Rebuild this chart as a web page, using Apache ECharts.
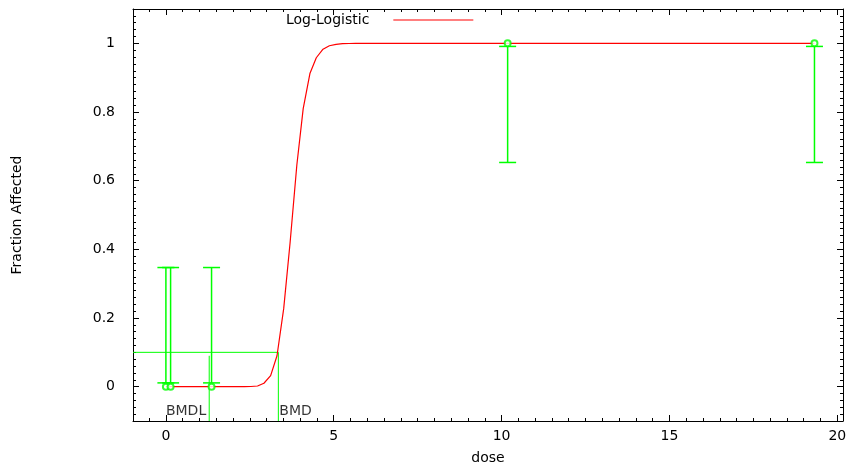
<!DOCTYPE html>
<html>
<head>
<meta charset="utf-8">
<script src="https://cdn.jsdelivr.net/npm/echarts@6/dist/echarts.min.js"></script>
<style>
  html, body { margin: 0; padding: 0; background: #fff; }
  #chart { width: 848px; height: 465px; }
</style>
</head>
<body>
<div id="chart"></div>
<script>
// Observed dose groups
const doses = [0, 0.14, 1.36, 10.18, 19.32];
const fracObserved = [0, 0, 0, 1, 1];
const ciLower = [0.011, 0.011, 0.011, 0.653, 0.653];
const ciUpper = [0.347, 0.347, 0.347, 0.991, 0.991];

// Fitted log-logistic curve, sampled doses and response
const curveDose = [0, 2.34, 2.53, 2.73, 2.92, 3.12, 3.31, 3.51, 3.70, 3.90, 4.09, 4.29, 4.48, 4.68, 4.87, 5.07, 5.26, 5.46, 5.65, 19.32];
const curveFrac = [0, 0, 0.0005, 0.002, 0.01, 0.032, 0.09, 0.228, 0.42, 0.645, 0.81, 0.912, 0.958, 0.983, 0.993, 0.997, 0.999, 0.9995, 1, 1];

// Benchmark dose results
const bmr = 0.1;
const bmd = 3.35;
const bmdl = 1.29;
const bmdlTop = 0.09;

// Axis ranges
const xRange = [-0.98, 20.17];
const yRange = [-0.1, 1.1];

const GREEN = '#00ff00';
const RED = '#ff0000';
const FONT = 'DejaVu Sans';
const FS = 14;

const chart = echarts.init(document.getElementById('chart'), null, { renderer: 'canvas' });

const tickCommon = {
  axisLine: { show: true, onZero: false, lineStyle: { color: '#000', width: 1 } },
  axisTick: { show: true, inside: true, length: 6, lineStyle: { color: '#000', width: 1 } },
  minorTick: { show: true, splitNumber: 10, length: 3, lineStyle: { color: '#000', width: 1 } },
  splitLine: { show: false },
  minorSplitLine: { show: false }
};

const option = {
  animation: false,
  backgroundColor: '#fff',
  textStyle: { fontFamily: FONT },
  grid: { left: 133, right: 5, top: 9, bottom: 44, containLabel: false, outerBoundsMode: 'none' },
  legend: {
    data: [{ name: 'Log-Logistic', icon: 'path://M0,0H80V1H0Z' }],
    left: 286,
    top: 13,
    padding: 0,
    align: 'right',
    itemWidth: 80,
    itemHeight: 14,
    itemStyle: { color: RED, borderWidth: 0 },
    textStyle: { fontFamily: FONT, fontSize: FS, color: '#000', padding: [0, 19, 0, 0] }
  },
  xAxis: [
    Object.assign({
      type: 'value', position: 'bottom', min: xRange[0], max: xRange[1],
      name: 'dose', nameLocation: 'middle', nameGap: 30,
      nameTextStyle: { fontFamily: FONT, fontSize: FS, color: '#000' },
      axisLabel: { show: true, showMinLabel: false, showMaxLabel: false, margin: 8,
        fontFamily: FONT, fontSize: FS, color: '#000' }
    }, tickCommon),
    Object.assign({
      type: 'value', position: 'top', min: xRange[0], max: xRange[1],
      axisLabel: { show: false }
    }, tickCommon)
  ],
  yAxis: [
    Object.assign({
      type: 'value', position: 'left', min: yRange[0], max: yRange[1],
      name: 'Fraction Affected', nameLocation: 'middle', nameGap: 109, nameRotate: 90,
      nameTextStyle: { fontFamily: FONT, fontSize: FS, color: '#000' },
      axisLabel: { show: true, showMinLabel: false, showMaxLabel: false, margin: 18,
        fontFamily: FONT, fontSize: FS, color: '#000' }
    }, tickCommon),
    Object.assign({
      type: 'value', position: 'right', min: yRange[0], max: yRange[1],
      axisLabel: { show: false }
    }, tickCommon)
  ],
  series: [
    {
      name: 'BMD line',
      type: 'line',
      data: [[xRange[0], bmr], [bmd, bmr], [bmd, yRange[0]]],
      showSymbol: false, symbol: 'none', silent: true,
      lineStyle: { color: GREEN, width: 1 },
      z: 2
    },
    {
      name: 'BMDL line',
      type: 'line',
      data: [[bmdl, yRange[0]], [bmdl, bmdlTop]],
      showSymbol: false, symbol: 'none', silent: true,
      lineStyle: { color: GREEN, width: 1 },
      z: 2
    },
    {
      name: 'BMD labels',
      type: 'scatter',
      symbolSize: 0,
      silent: true,
      data: [
        { value: [bmdl, -0.071], label: { show: true, formatter: 'BMDL', position: 'left', distance: 3 } },
        { value: [bmd, -0.071], label: { show: true, formatter: 'BMD', position: 'right', distance: 1 } }
      ],
      label: { fontFamily: FONT, fontSize: FS, color: '#000' },
      z: 3
    },
    {
      name: 'Error bars',
      type: 'custom',
      silent: true,
      data: doses.map((d, i) => [d, ciLower[i], ciUpper[i]]),
      renderItem: function (params, api) {
        const x = api.value(0);
        const lo = api.coord([x, api.value(1)]);
        const hi = api.coord([x, api.value(2)]);
        const hw = 8.5;
        const style = { stroke: GREEN, lineWidth: 1.5 };
        return {
          type: 'group',
          children: [
            { type: 'line', shape: { x1: lo[0], y1: lo[1], x2: hi[0], y2: hi[1] }, style: style },
            { type: 'line', shape: { x1: lo[0] - hw, y1: lo[1], x2: lo[0] + hw, y2: lo[1] }, style: style },
            { type: 'line', shape: { x1: hi[0] - hw, y1: hi[1], x2: hi[0] + hw, y2: hi[1] }, style: style }
          ]
        };
      },
      z: 3
    },
    {
      name: 'Log-Logistic',
      type: 'line',
      data: curveDose.map((d, i) => [d, curveFrac[i]]),
      showSymbol: false, symbol: 'none',
      lineStyle: { color: RED, width: 1.2 },
      itemStyle: { color: RED },
      z: 4
    },
    {
      name: 'Observed',
      type: 'scatter',
      data: doses.map((d, i) => [d, fracObserved[i]]),
      symbol: 'emptyCircle',
      symbolSize: 6,
      itemStyle: { color: GREEN, borderColor: GREEN, borderWidth: 1 },
      z: 5
    }
  ]
};

chart.setOption(option);
</script>
</body>
</html>
